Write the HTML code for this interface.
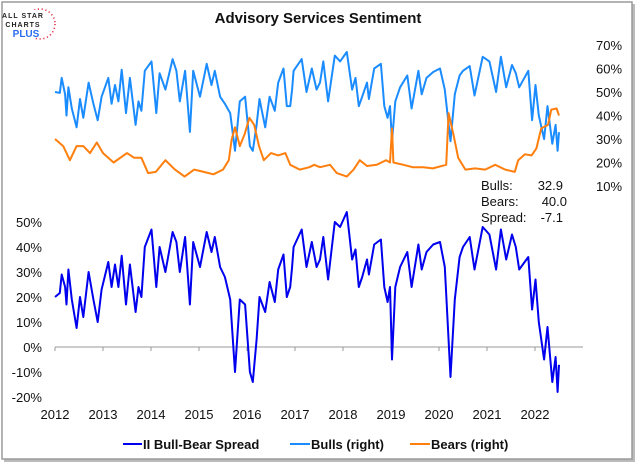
<!DOCTYPE html>
<html><head><meta charset="utf-8"><style>
html,body{margin:0;padding:0;background:#fff;}
body{width:639px;height:466px;overflow:hidden;font-family:"Liberation Sans",sans-serif;}
svg text{font-family:"Liberation Sans",sans-serif;}
</style></head><body>
<svg id="chart" width="639" height="466" viewBox="0 0 639 466" xmlns="http://www.w3.org/2000/svg">
<rect x="4" y="4" width="631" height="458" fill="#bbb"/>
<rect x="2" y="2" width="630" height="457" fill="#fff" stroke="#9a9a9a" stroke-width="1.5"/>
<g>
<circle cx="40" cy="24" r="15" fill="none" stroke="#e8334a" stroke-width="1.6" stroke-dasharray="1.2 2.6"/>
<rect x="4" y="10" width="32" height="28" fill="#fff"/>
<text x="23" y="18" font-size="7" font-weight="bold" fill="#222" text-anchor="middle" letter-spacing="1">ALL STAR</text>
<text x="23" y="27" font-size="7" font-weight="bold" fill="#222" text-anchor="middle" letter-spacing="1">CHARTS</text>
<text x="26" y="37" font-size="10" font-weight="bold" fill="#2a6cf0" text-anchor="middle">PLUS</text>
</g>
<text x="318" y="23" font-size="15" font-weight="bold" fill="#111" text-anchor="middle">Advisory Services Sentiment</text>
<g id="rightAxis"></g>
<g id="leftAxis"></g>
<g id="xAxis"></g>
<g id="series"></g>
<g font-size="13" fill="#111">
<text x="481" y="190">Bulls:</text><text x="563" y="190" text-anchor="end">32.9</text>
<text x="481" y="206">Bears:</text><text x="567" y="206" text-anchor="end">40.0</text>
<text x="481" y="222">Spread:</text><text x="563" y="222" text-anchor="end">-7.1</text>
</g>
<g font-size="13" font-weight="bold" fill="#111">
<g><line x1="123" y1="444" x2="142" y2="444" stroke="#0000ee" stroke-width="2"/><text x="143" y="449">II Bull-Bear Spread</text></g>
<g><line x1="290" y1="444" x2="310" y2="444" stroke="#1a8cff" stroke-width="2"/><text x="311" y="449">Bulls (right)</text></g>
<g><line x1="410" y1="444" x2="430" y2="444" stroke="#ff7f0e" stroke-width="2"/><text x="431" y="449">Bears (right)</text></g>
</g>
</svg>
<script>
const spreadDates=[2012.0,2012.1,2012.14,2012.21,2012.24,2012.28,2012.35,2012.45,2012.52,2012.59,2012.7,2012.8,2012.89,2012.97,2013.11,2013.18,2013.25,2013.32,2013.39,2013.48,2013.56,2013.68,2013.74,2013.8,2013.87,2014.01,2014.11,2014.18,2014.3,2014.45,2014.53,2014.6,2014.71,2014.81,2014.88,2015.02,2015.16,2015.26,2015.33,2015.44,2015.54,2015.65,2015.75,2015.85,2015.96,2016.06,2016.12,2016.2,2016.26,2016.38,2016.47,2016.58,2016.65,2016.76,2016.83,2016.9,2016.94,2016.97,2017.14,2017.24,2017.35,2017.45,2017.52,2017.59,2017.69,2017.83,2017.94,2018.08,2018.19,2018.26,2018.33,2018.4,2018.5,2018.54,2018.65,2018.79,2018.86,2018.93,2018.98,2019.02,2019.09,2019.19,2019.34,2019.43,2019.57,2019.64,2019.74,2019.88,2020.02,2020.12,2020.24,2020.33,2020.43,2020.5,2020.64,2020.74,2020.91,2021.05,2021.19,2021.29,2021.4,2021.52,2021.6,2021.67,2021.86,2021.94,2022.01,2022.08,2022.19,2022.26,2022.36,2022.43,2022.47,2022.5];
const spreadValues=[20,21.6,29,24,17,31,19,7.6,20,12,30,19,10,23,34,24,33,24,36.5,17,33,14,24,20,40,47,24,40,30,46,42,30,44,17,42,32,46,38,44,32,28,19,-10,19,17,-10,-14,3,20,14,26,18,31,37,20,24,32,40,47,32,42,32,35,44,27,50,48,54,35,39,24,28,35,29,41,43,24,18,24,-5,24,32,38,24,41,31,38,41,42,32,-12,19,36,40,44,31,48,45,31,47,35,45,40,31,36,15,27,10,-5,8,-14,-4,-18,-7.1];
const bullsValues=[50,49.6,56,49,40,52,43,35,47,39,54,45,38,48,56,45,53,46,59.5,41,56,36,46,42,59,63,41,58,51,64,59,46,59,33,59,48,62,53,59,48,45,41,25,46,48,27,25,36,47,35,48,42,54,60,44,44,51,59,64,50,60,51,54,63,46,65.5,63,67,51,56,44,48,54,47,60,62,44,39,44,29,46,52,57,43,59,49,56,58.5,60,51,29,49,57,59,61,48.5,65,63,50,65,52,61.5,58,52,59,38,53,40,30,44,28,36,25,32.9];
const bearsDates=[2012.0,2012.17,2012.31,2012.45,2012.59,2012.73,2012.87,2013.0,2013.22,2013.5,2013.65,2013.8,2013.94,2014.1,2014.3,2014.5,2014.7,2014.9,2015.1,2015.3,2015.5,2015.62,2015.68,2015.75,2015.85,2015.95,2016.05,2016.15,2016.25,2016.35,2016.5,2016.65,2016.8,2016.9,2017.1,2017.3,2017.4,2017.52,2017.73,2017.87,2018.08,2018.22,2018.35,2018.5,2018.7,2018.9,2018.98,2019.02,2019.05,2019.26,2019.45,2019.67,2019.87,2020.15,2020.2,2020.3,2020.4,2020.55,2020.75,2020.96,2021.17,2021.38,2021.58,2021.65,2021.79,2021.93,2022.03,2022.13,2022.27,2022.34,2022.45,2022.5];
const bearsValues=[30,27,21,27,27,24,28.5,24,20,24,22,22,15.5,16,21,17,14,17,16,15,17,21,29.6,35,27,32,39,36,27,21,24,23,24,19,17,18,19,18,19,15.5,14,17,21,18.5,19,21,20,34.5,20,19,18,18,17.5,19,41,32,22,17,17.5,17,19,17,16,21,23.5,23,26,34.5,36,42.5,43,40];
const rightTicks=[10,20,30,40,50,60,70];
const leftTicks=[-20,-10,0,10,20,30,40,50];
const yearLabels=[2012,2013,2014,2015,2016,2017,2018,2019,2020,2021,2022];

const NS="http://www.w3.org/2000/svg";
const xS=y=>55+(y-2012)*48;
const yTop=v=>186-(v-10)*2.35;
const yBot=v=>347-v*2.5;
function mk(tag,attrs,parent){const e=document.createElementNS(NS,tag);for(const k in attrs)e.setAttribute(k,attrs[k]);parent.appendChild(e);return e;}
const ra=document.getElementById('rightAxis'),la=document.getElementById('leftAxis'),xa=document.getElementById('xAxis'),sr=document.getElementById('series');
rightTicks.forEach(t=>{const e=mk('text',{x:596,y:yTop(t)+5,'font-size':13,fill:'#111'},ra);e.textContent=t+'%';

});
leftTicks.forEach(t=>{const e=mk('text',{x:42,y:yBot(t)+5,'font-size':13,fill:'#111','text-anchor':'end'},la);e.textContent=t+'%';

});
const zl=mk('line',{x1:55,y1:yBot(0),x2:583,y2:yBot(0),stroke:'#999','stroke-width':1},xa);


yearLabels.forEach(y=>{const tk=mk('line',{x1:xS(y),y1:yBot(0),x2:xS(y),y2:yBot(0)+4,stroke:'#999'},xa);


const e=mk('text',{x:xS(y),y:419,'font-size':13,fill:'#111','text-anchor':'middle'},xa);e.textContent=y;

});
function path(dates,vals,ys){return dates.map((d,i)=>(i?'L':'M')+xS(d).toFixed(1)+' '+ys(vals[i]).toFixed(1)).join(' ');}
const pb=mk('path',{d:path(spreadDates,bullsValues,yTop),fill:'none',stroke:'#1a8cff','stroke-width':2,'stroke-linejoin':'round'},sr);


const pr=mk('path',{d:path(bearsDates,bearsValues,yTop),fill:'none',stroke:'#ff7f0e','stroke-width':2,'stroke-linejoin':'round'},sr);


const ps=mk('path',{d:path(spreadDates,spreadValues,yBot),fill:'none',stroke:'#0000ee','stroke-width':2,'stroke-linejoin':'round'},sr);


</script>
</body></html>
